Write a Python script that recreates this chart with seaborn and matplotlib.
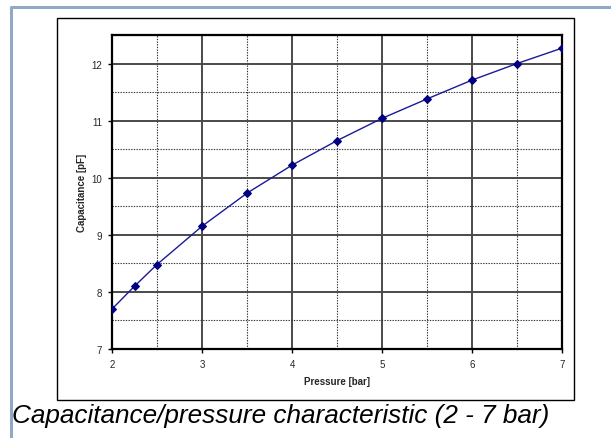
import matplotlib
matplotlib.use("Agg")
import matplotlib.pyplot as plt
import seaborn as sns
import pandas as pd
from matplotlib.lines import Line2D
from matplotlib.patches import Rectangle
from matplotlib.ticker import MultipleLocator

pressure = [2.0, 2.25, 2.5, 3.0, 3.5, 4.0, 4.5, 5.0, 5.5, 6.0, 6.5, 7.0]
capacitance = [7.70, 8.10, 8.48, 9.15, 9.73, 10.22, 10.65, 11.04, 11.38, 11.71, 12.00, 12.27]
x_ticks = [2, 3, 4, 5, 6, 7]
y_ticks = [7, 8, 9, 10, 11, 12]
x_label = "Pressure [bar]"
y_label = "Capacitance [pF]"
caption = "Capacitance/pressure characteristic (2 - 7 bar)"

sns.set_theme(style="white")
plt.rcParams['font.family'] = ['Liberation Sans', 'DejaVu Sans']

W, H = 611, 439
fig = plt.figure(figsize=(W / 100, H / 100), dpi=100)
fig.patch.set_facecolor("white")

# outer frame (open right/bottom)
fig.add_artist(Line2D([11 / W, 11 / W, 1.0], [0.0, 1 - 8 / H, 1 - 8 / H],
                      transform=fig.transFigure, color="#8fa9c7", lw=2.2))
# chart box
fig.add_artist(Rectangle((57 / W, 1 - 401 / H), (574 - 57) / W, (401 - 19) / H,
                         transform=fig.transFigure, fill=False, ec="black", lw=1.0))

ax = fig.add_axes([112 / W, 1 - 350 / H, (562 - 112) / W, (350 - 36) / H])
df = pd.DataFrame({"p": pressure, "c": capacitance})
sns.lineplot(data=df, x="p", y="c", ax=ax, color="#1a1a99", lw=1.0,
             marker="D", markersize=4, markeredgecolor="#000080",
             markerfacecolor="#000080", zorder=5)

ax.set_xlim(2, 7)
ax.set_ylim(7, 12.5)
ax.set_xticks(x_ticks)
ax.set_yticks(y_ticks)
ax.set_xticklabels([str(t) for t in x_ticks])
ax.set_yticklabels([str(t) for t in y_ticks])
ax.xaxis.set_minor_locator(MultipleLocator(0.5))
ax.yaxis.set_minor_locator(MultipleLocator(0.5))
ax.grid(which="major", color="#4a4a4a", lw=1.4, ls="-")
ax.grid(which="minor", color="#303030", lw=0.8, ls=(0, (1.2, 1.2)))
ax.set_axisbelow(True)
ax.tick_params(which="major", direction="out", length=3, width=1, color="black",
               labelsize=7, pad=4, bottom=True, left=True)
ax.tick_params(which="minor", length=0)
for s in ax.spines.values():
    s.set_color("black")
    s.set_linewidth(1.6)

ax.set_xlabel(x_label, fontsize=7, fontweight="bold", labelpad=5)
ax.set_ylabel(y_label, fontsize=7, fontweight="bold", labelpad=3)

fig.text(12 / W, 1 - 416 / H, caption, fontsize=18.8, style="italic",
         va="center", ha="left", color="black")

fig.savefig("out.png", dpi=100)
